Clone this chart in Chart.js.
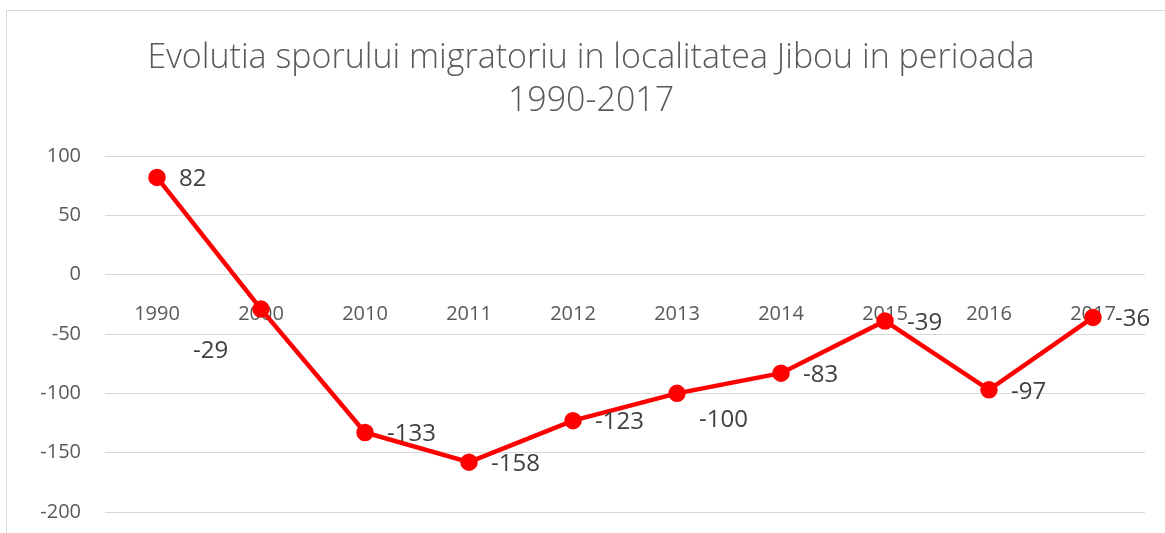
<!DOCTYPE html>
<html>
<head>
<meta charset="utf-8">
<script src="https://cdn.jsdelivr.net/npm/chart.js@4"></script>
<style>
  html, body { margin: 0; padding: 0; background: #fff; overflow: hidden; }
  #frame {
    position: absolute; left: 6px; top: 10px;
    width: 1168px; height: 537px;
    border: 1px solid #d9d9d9;
  }
</style>
</head>
<body>
<div id="frame"><canvas id="chart" width="1168" height="537"></canvas></div>
<script>
const years = ['1990', '2000', '2010', '2011', '2012', '2013', '2014', '2015', '2016', '2017'];
const sporMigratoriu = [82, -29, -133, -158, -123, -100, -83, -39, -97, -36];
const yTicks = [-200, -150, -100, -50, 0, 50, 100];

// mutari manuale ale etichetelor (ca in Excel)
const labelNudge = { 1: [-90, 42], 5: [0, 27] };

const valueLabels = {
    id: 'valueLabels',
    afterDatasetsDraw(chart) {
        const ctx = chart.ctx;
        const meta = chart.getDatasetMeta(0);
        ctx.save();
        ctx.font = '24px "Open Sans"';
        ctx.fillStyle = '#404040';
        ctx.textAlign = 'left';
        ctx.textBaseline = 'middle';
        meta.data.forEach((pt, i) => {
            const n = labelNudge[i] || [0, 2];
            ctx.fillText(String(sporMigratoriu[i]), pt.x + 22 + n[0], pt.y + n[1]);
        });
        ctx.restore();
    }
};

new Chart(document.getElementById('chart'), {
    type: 'line',
    data: {
        labels: years,
        datasets: [{
            data: sporMigratoriu,
            borderColor: '#ff0000',
            backgroundColor: '#ff0000',
            borderWidth: 4.5,
            pointRadius: 6.5,
            pointHoverRadius: 6.5,
            tension: 0,
            fill: false
        }]
    },
    options: {
        responsive: false,
        animation: false,
        layout: { padding: { left: 0, right: 0, bottom: 21 } },
        plugins: {
            legend: { display: false },
            tooltip: { enabled: false },
            title: {
                display: true,
                text: ['Evolutia sporului migratoriu in localitatea Jibou in perioada', '1990-2017'],
                color: '#595959',
                font: { family: '"Open Sans"', size: 34, weight: 300, lineHeight: 1.265 },
                padding: { top: 26, bottom: 33 }
            }
        },
        scales: {
            x: {
                position: { y: 0 },
                offset: true,
                grid: { display: false, drawTicks: false },
                border: { display: false },
                ticks: {
                    color: '#595959',
                    font: { family: '"Open Sans"', size: 20 },
                    padding: 28,
                    maxRotation: 0
                }
            },
            y: {
                min: -200,
                max: 100,
                afterBuildTicks: (scale) => { scale.ticks = yTicks.map(v => ({ value: v })); },
                afterFit: (scale) => { scale.width = 98; },
                grid: { color: '#d9d9d9', lineWidth: 1, drawTicks: false },
                border: { display: false },
                ticks: {
                    color: '#595959',
                    font: { family: '"Open Sans"', size: 20 },
                    padding: 24
                }
            },
            // spatiu gol in dreapta zonei de desen
            yRight: {
                position: 'right',
                grid: { display: false, drawTicks: false },
                border: { display: false },
                ticks: { display: false },
                afterFit: (scale) => { scale.width = 30; }
            }
        }
    },
    plugins: [valueLabels]
});
</script>
</body>
</html>
